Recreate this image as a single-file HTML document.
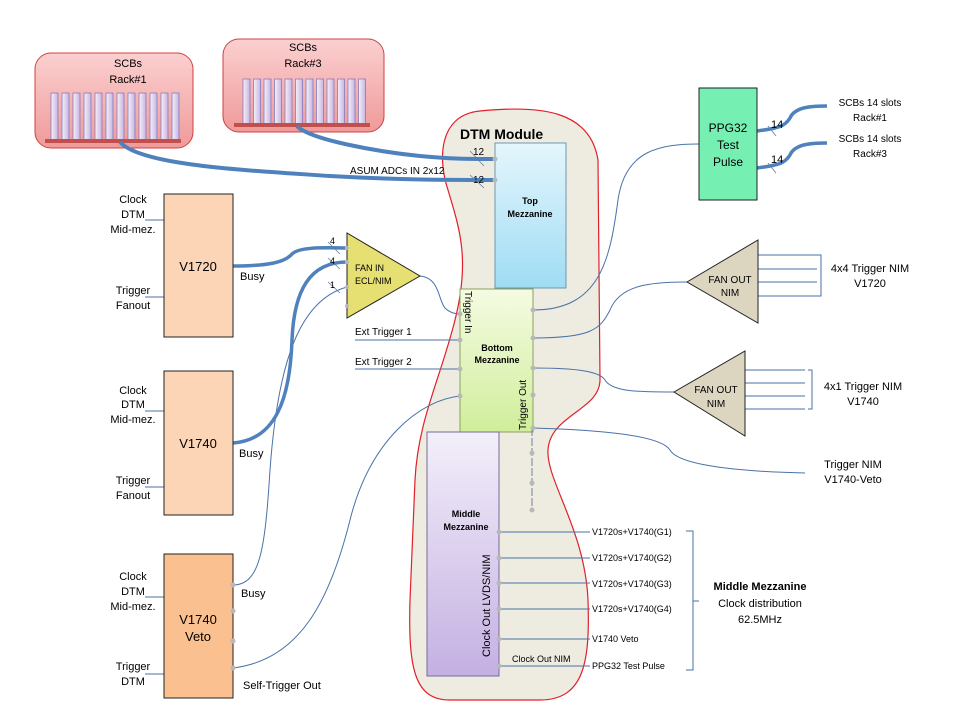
<!DOCTYPE html>
<html><head><meta charset="utf-8"><style>
html,body{margin:0;padding:0;background:#fff;}
svg{display:block;font-family:"Liberation Sans",sans-serif;}
</style></head><body>
<svg width="960" height="720" viewBox="0 0 960 720" xmlns="http://www.w3.org/2000/svg">
<defs>
<linearGradient id="pink" x1="0" y1="0" x2="0" y2="1"><stop offset="0" stop-color="#fbd0d0"/><stop offset="1" stop-color="#f09a9a"/></linearGradient>
<linearGradient id="slot" x1="0" y1="0" x2="1" y2="0"><stop offset="0" stop-color="#f4f0fa"/><stop offset="1" stop-color="#c6b6e2"/></linearGradient>
<linearGradient id="blue" x1="0" y1="0" x2="0" y2="1"><stop offset="0" stop-color="#e4f6fc"/><stop offset="1" stop-color="#9fdcf4"/></linearGradient>
<linearGradient id="green" x1="0" y1="0" x2="0" y2="1"><stop offset="0" stop-color="#f5fbe2"/><stop offset="1" stop-color="#d0ee9c"/></linearGradient>
<linearGradient id="purple" x1="0" y1="0" x2="0" y2="1"><stop offset="0" stop-color="#f3effa"/><stop offset="1" stop-color="#c4b0e2"/></linearGradient>
</defs>

<rect x="35" y="53" width="158" height="95" rx="16" fill="url(#pink)" stroke="#d04040" stroke-width="1"/>
<text x="128" y="67" font-size="11" text-anchor="middle">SCBs</text>
<text x="128" y="83" font-size="11" text-anchor="middle">Rack#1</text>
<g fill="url(#slot)" stroke="#8a7ab8" stroke-width="0.8">
<rect x="51" y="93" width="7" height="47"/><rect x="62" y="93" width="7" height="47"/><rect x="73" y="93" width="7" height="47"/><rect x="84" y="93" width="7" height="47"/><rect x="95" y="93" width="7" height="47"/><rect x="106" y="93" width="7" height="47"/><rect x="117" y="93" width="7" height="47"/><rect x="128" y="93" width="7" height="47"/><rect x="139" y="93" width="7" height="47"/><rect x="150" y="93" width="7" height="47"/><rect x="161" y="93" width="7" height="47"/><rect x="172" y="93" width="7" height="47"/>
</g>
<rect x="45" y="139" width="136" height="4" fill="#c0504d"/>

<rect x="223" y="39" width="161" height="93" rx="16" fill="url(#pink)" stroke="#d04040" stroke-width="1"/>
<text x="303" y="51" font-size="11" text-anchor="middle">SCBs</text>
<text x="303" y="67" font-size="11" text-anchor="middle">Rack#3</text>
<g fill="url(#slot)" stroke="#8a7ab8" stroke-width="0.8">
<rect x="243" y="79" width="7" height="46"/><rect x="253.5" y="79" width="7" height="46"/><rect x="264" y="79" width="7" height="46"/><rect x="274.5" y="79" width="7" height="46"/><rect x="285" y="79" width="7" height="46"/><rect x="295.5" y="79" width="7" height="46"/><rect x="306" y="79" width="7" height="46"/><rect x="316.5" y="79" width="7" height="46"/><rect x="327" y="79" width="7" height="46"/><rect x="337.5" y="79" width="7" height="46"/><rect x="348" y="79" width="7" height="46"/><rect x="358.5" y="79" width="7" height="46"/>
</g>
<rect x="234" y="123" width="136" height="4" fill="#c0504d"/>

<path d="M 480,111 C 540,105 590,110 598,160 L 600,380 C 600,410 550,415 548,450 C 546,480 585,530 588,600 C 590,660 585,700 540,700 L 450,700 C 415,700 408,670 410,600 L 415,480 C 418,420 440,380 455,320 C 470,260 460,230 448,190 C 438,160 438,115 480,111 Z" fill="#eeebe1" stroke="#e0202a" stroke-width="1.2"/>
<text x="460" y="139" font-size="14" font-weight="bold">DTM Module</text>

<path d="M 120,142 C 140,165 240,170 330,176 C 400,180 450,180 495,180" fill="none" stroke="#4f81bd" stroke-width="4"/>
<path d="M 297,126 C 310,140 380,152 420,156 C 450,159 470,159 495,159" fill="none" stroke="#4f81bd" stroke-width="4"/>
<text x="350" y="174" font-size="10">ASUM ADCs IN 2x12</text>
<text x="473" y="155" font-size="10">12</text>
<text x="473" y="183" font-size="10">12</text>
<line x1="470" y1="151" x2="484" y2="166" stroke="#6080a0" stroke-width="0.8"/>
<line x1="470" y1="175" x2="484" y2="188" stroke="#6080a0" stroke-width="0.8"/>

<rect x="495" y="143" width="71" height="145" fill="url(#blue)" stroke="#6a9ab0" stroke-width="1"/>
<text x="530" y="204" font-size="9" font-weight="bold" text-anchor="middle">Top</text>
<text x="530" y="217" font-size="9" font-weight="bold" text-anchor="middle">Mezzanine</text>

<rect x="460" y="289" width="73" height="143" fill="url(#green)" stroke="#8aa060" stroke-width="1"/>
<text transform="translate(465,291) rotate(90)" font-size="10">Trigger In</text>
<text x="497" y="351" font-size="9" font-weight="bold" text-anchor="middle">Bottom</text>
<text x="497" y="363" font-size="9" font-weight="bold" text-anchor="middle">Mezzanine</text>
<text transform="translate(526,430) rotate(-90)" font-size="10">Trigger Out</text>

<rect x="427" y="432" width="72" height="244" fill="url(#purple)" stroke="#7a6a9a" stroke-width="1"/>
<text x="466" y="517" font-size="9" font-weight="bold" text-anchor="middle">Middle</text>
<text x="466" y="530" font-size="9" font-weight="bold" text-anchor="middle">Mezzanine</text>
<text transform="translate(490,657) rotate(-90)" font-size="11">Clock Out  LVDS/NIM</text>

<line x1="532" y1="428" x2="532" y2="510" stroke="#7080a0" stroke-width="1" stroke-dasharray="8,2"/>

<g fill="none" stroke="#4a72a8" stroke-width="1">
<path d="M 420,276 C 440,278 438,300 445,308 C 450,313 455,314 460,314"/>
<line x1="355" y1="340" x2="460" y2="340"/>
<line x1="355" y1="369" x2="460" y2="369"/>
<path d="M 233,668 C 300,660 330,600 350,520 C 370,440 420,400 460,396"/>
<path d="M 233,585 C 260,585 265,550 270,470 C 278,360 300,300 347,287"/>
<path d="M 533,310 C 600,310 610,260 618,200 C 625,150 660,144 699,144"/>
<path d="M 533,338 C 590,338 600,330 610,310 C 620,285 650,282 687,282"/>
<path d="M 533,368 C 580,368 600,372 605,380 C 612,392 640,392 674,392"/>
<path d="M 533,428 C 600,430 660,435 670,450 C 680,468 760,472 805,473"/>
<line x1="499" y1="532" x2="590" y2="532"/>
<line x1="499" y1="558" x2="590" y2="558"/>
<line x1="499" y1="583" x2="590" y2="583"/>
<line x1="499" y1="609" x2="590" y2="609"/>
<line x1="499" y1="639" x2="590" y2="639"/>
<line x1="499" y1="666" x2="590" y2="666"/>
<path d="M 686,531 L 693,531 L 693,670 L 686,670 M 693,601 L 699,601"/>
<line x1="758" y1="255" x2="817" y2="255"/><line x1="758" y1="269" x2="817" y2="269"/><line x1="758" y1="282" x2="817" y2="282"/><line x1="758" y1="296" x2="817" y2="296"/>
<path d="M 817,255 L 821,255 L 821,296 L 817,296"/>
<line x1="745" y1="370" x2="805" y2="370"/><line x1="745" y1="383" x2="805" y2="383"/><line x1="745" y1="396" x2="805" y2="396"/><line x1="745" y1="409" x2="805" y2="409"/>
<path d="M 808,370 L 812,370 L 812,409 L 808,409"/>
<line x1="145" y1="220" x2="164" y2="220"/><line x1="145" y1="297" x2="164" y2="297"/>
<line x1="145" y1="411" x2="164" y2="411"/><line x1="145" y1="487" x2="164" y2="487"/>
<line x1="145" y1="597" x2="164" y2="597"/><line x1="145" y1="674" x2="164" y2="674"/>
</g>

<g fill="none" stroke="#4f81bd" stroke-width="3.5">
<path d="M 233,266 C 270,266 285,262 292,254 C 300,246 330,248 347,248"/>
<path d="M 233,443 C 275,440 290,400 292,340 C 294,290 310,262 347,262"/>
<path d="M 757,131 C 780,128 785,126 790,118 C 795,106 815,106 827,106"/>
<path d="M 757,168 C 780,165 785,163 790,155 C 795,143 815,143 827,143"/>
</g>
<g stroke="#6080a0" stroke-width="0.8">
<line x1="328" y1="242" x2="340" y2="254"/><line x1="328" y1="258" x2="340" y2="269"/><line x1="328" y1="282" x2="340" y2="293"/>
<line x1="768" y1="126" x2="776" y2="136"/><line x1="768" y1="163" x2="776" y2="173"/>
</g>

<polygon points="347,233 347,318 420,276" fill="#e6df72" stroke="#222" stroke-width="1"/>
<text x="355" y="271" font-size="9">FAN IN</text>
<text x="355" y="284" font-size="9">ECL/NIM</text>
<text x="330" y="244" font-size="9">4</text>
<text x="330" y="264" font-size="9">4</text>
<text x="330" y="288" font-size="9">1</text>

<rect x="164" y="194" width="69" height="143" fill="#fbd5b5" stroke="#222" stroke-width="1"/>
<text x="198" y="271" font-size="13" text-anchor="middle">V1720</text>
<rect x="164" y="371" width="69" height="144" fill="#fbd5b5" stroke="#222" stroke-width="1"/>
<text x="198" y="448" font-size="13" text-anchor="middle">V1740</text>
<rect x="164" y="554" width="69" height="144" fill="#fac08f" stroke="#222" stroke-width="1"/>
<text x="198" y="624" font-size="13" text-anchor="middle">V1740</text>
<text x="198" y="641" font-size="13" text-anchor="middle">Veto</text>
<g font-size="11" text-anchor="middle">
<text x="133" y="203">Clock</text><text x="133" y="218">DTM</text><text x="133" y="233">Mid-mez.</text>
<text x="133" y="294">Trigger</text><text x="133" y="309">Fanout</text>
<text x="133" y="394">Clock</text><text x="133" y="408">DTM</text><text x="133" y="423">Mid-mez.</text>
<text x="133" y="484">Trigger</text><text x="133" y="499">Fanout</text>
<text x="133" y="580">Clock</text><text x="133" y="595">DTM</text><text x="133" y="610">Mid-mez.</text>
<text x="133" y="670">Trigger</text><text x="133" y="685">DTM</text>
</g>
<g font-size="11">
<text x="240" y="280">Busy</text>
<text x="239" y="457">Busy</text>
<text x="241" y="597">Busy</text>
<text x="243" y="689">Self-Trigger Out</text>
<text x="355" y="335" font-size="10">Ext Trigger 1</text>
<text x="355" y="365" font-size="10">Ext Trigger 2</text>
</g>

<rect x="699" y="88" width="58" height="112" fill="#76efb2" stroke="#222" stroke-width="1"/>
<g font-size="12" text-anchor="middle"><text x="728" y="132">PPG32</text><text x="728" y="149">Test</text><text x="728" y="166">Pulse</text></g>
<text x="771" y="128" font-size="11">14</text>
<text x="771" y="163" font-size="11">14</text>
<g font-size="10" text-anchor="middle">
<text x="870" y="106">SCBs 14 slots</text><text x="870" y="121">Rack#1</text>
<text x="870" y="142">SCBs 14 slots</text><text x="870" y="157">Rack#3</text>
</g>

<polygon points="687,282 758,240 758,323" fill="#dcd6c1" stroke="#222" stroke-width="1"/>
<text x="730" y="283" font-size="10" text-anchor="middle">FAN OUT</text>
<text x="730" y="296" font-size="10" text-anchor="middle">NIM</text>
<polygon points="674,392 745,351 745,436" fill="#dcd6c1" stroke="#222" stroke-width="1"/>
<text x="716" y="393" font-size="10" text-anchor="middle">FAN OUT</text>
<text x="716" y="407" font-size="10" text-anchor="middle">NIM</text>
<g font-size="11" text-anchor="middle">
<text x="870" y="272">4x4 Trigger NIM</text><text x="870" y="287">V1720</text>
<text x="863" y="390">4x1 Trigger NIM</text><text x="863" y="405">V1740</text>
<text x="853" y="468">Trigger NIM</text><text x="853" y="483">V1740-Veto</text>
</g>

<g font-size="9">
<text x="592" y="535">V1720s+V1740(G1)</text>
<text x="592" y="561">V1720s+V1740(G2)</text>
<text x="592" y="587">V1720s+V1740(G3)</text>
<text x="592" y="612">V1720s+V1740(G4)</text>
<text x="592" y="642">V1740 Veto</text>
<text x="592" y="669">PPG32 Test Pulse</text>
<text x="512" y="662">Clock Out NIM</text>
</g>
<text x="760" y="590" font-size="11" font-weight="bold" text-anchor="middle">Middle Mezzanine</text>
<text x="760" y="607" font-size="11" text-anchor="middle">Clock distribution</text>
<text x="760" y="623" font-size="11" text-anchor="middle">62.5MHz</text>

<g fill="#b8b8b8">
<circle cx="495" cy="159" r="2.5"/><circle cx="495" cy="180" r="2.5"/>
<circle cx="460" cy="314" r="2.5"/><circle cx="460" cy="340" r="2.5"/><circle cx="460" cy="369" r="2.5"/><circle cx="460" cy="396" r="2.5"/>
<circle cx="533" cy="310" r="2.5"/><circle cx="533" cy="338" r="2.5"/><circle cx="533" cy="368" r="2.5"/><circle cx="533" cy="395" r="2.5"/><circle cx="533" cy="428" r="2.5"/>
<circle cx="532" cy="453" r="2.5"/><circle cx="532" cy="483" r="2.5"/><circle cx="532" cy="510" r="2.5"/>
<circle cx="499" cy="532" r="2.5"/><circle cx="499" cy="558" r="2.5"/><circle cx="499" cy="583" r="2.5"/><circle cx="499" cy="609" r="2.5"/><circle cx="499" cy="639" r="2.5"/><circle cx="499" cy="666" r="2.5"/>
<circle cx="347" cy="248" r="2"/><circle cx="347" cy="262" r="2"/><circle cx="347" cy="287" r="2"/><circle cx="347" cy="306" r="2"/>
<circle cx="233" cy="585" r="2.5"/><circle cx="233" cy="611" r="2.5"/><circle cx="233" cy="641" r="2.5"/><circle cx="233" cy="668" r="2.5"/>
</g>
</svg>
</body></html>
